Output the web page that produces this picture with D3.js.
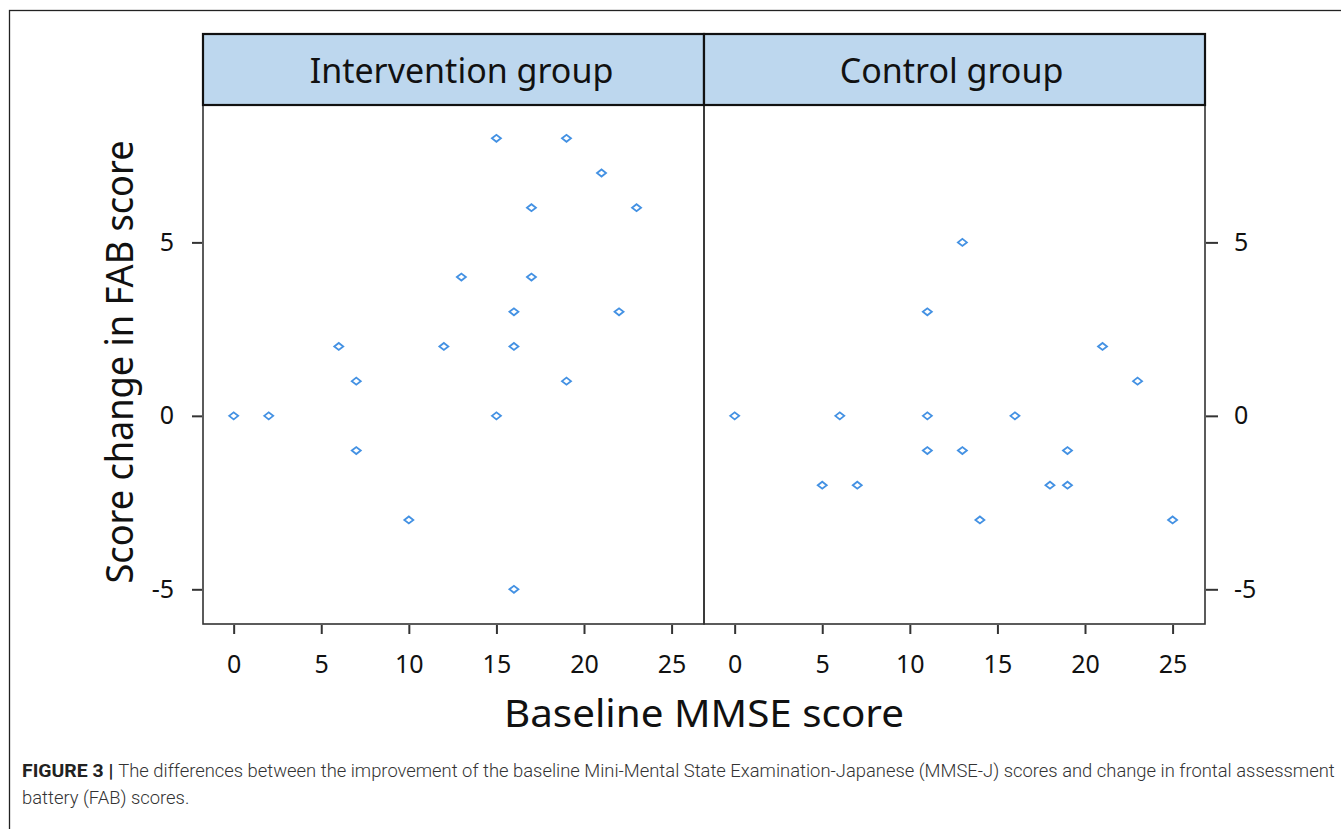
<!DOCTYPE html>
<html>
<head>
<meta charset="utf-8">
<script src="https://cdn.jsdelivr.net/npm/d3@7"></script>
<style>
  body { margin: 0; background: #fff; }
  svg { display: block; }
</style>
</head>
<body>
<svg></svg>
<script>
// Set the dimensions of the SVG container
const width = 1341;
const height = 829;

// panels (facets)
const panels = ["Intervention group", "Control group"];

// Baseline MMSE score / change in FAB score, one pair of arrays per panel
const interventionMMSE = [0, 2, 6, 7, 7, 10, 12, 13, 15, 15, 16, 16, 16, 17, 17, 19, 19, 21, 22, 23];
const interventionFAB  = [0, 0, 2, 1, -1, -3, 2, 4, 8, 0, 3, 2, -5, 6, 4, 8, 1, 7, 3, 6];
const controlMMSE = [0, 5, 6, 7, 11, 11, 11, 13, 13, 14, 16, 18, 19, 19, 21, 23, 25];
const controlFAB  = [0, -2, 0, -2, 3, 0, -1, 5, -1, -3, 0, -2, -1, -2, 2, 1, -3];

// tick values
const xTicks = [0, 5, 10, 15, 20, 25];
const yTicks = [-5, 0, 5];

const captionBold = "FIGURE 3 | ";
const captionLine1 = "The differences between the improvement of the baseline Mini-Mental State Examination-Japanese (MMSE-J) scores and change in frontal assessment";
const captionLine2 = "battery (FAB) scores.";

const svg = d3.select("svg")
  .attr("width", width)
  .attr("height", height);

// outer frame of the figure
svg.append("rect")
  .attr("x", 9.5).attr("y", 10.5)
  .attr("width", 1345).attr("height", 840)
  .attr("fill", "none")
  .attr("stroke", "#222")
  .attr("stroke-width", 1.3);

// layout
const plotLeft = 203, plotRight = 1205;
const stripTop = 34, stripBottom = 105, plotBottom = 624;
const panelW = (plotRight - plotLeft) / 2;
const stripShift = [8, -3];
const font = "'Noto Sans', 'Open Sans', sans-serif";

const y = d3.scaleLinear()
  .domain([-6, 8.96])
  .range([plotBottom, stripBottom]);

const data = [
  interventionMMSE.map((m, i) => ({ x: m, y: interventionFAB[i] })),
  controlMMSE.map((m, i) => ({ x: m, y: controlFAB[i] }))
];

panels.forEach((name, p) => {
  const x0 = plotLeft + p * panelW;
  const x = d3.scaleLinear()
    .domain([-1.75, 26.85])
    .range([x0, x0 + panelW]);

  const g = svg.append("g");

  // panel box
  g.append("rect")
    .attr("x", x0).attr("y", stripBottom)
    .attr("width", panelW).attr("height", plotBottom - stripBottom)
    .attr("fill", "none")
    .attr("stroke", "#333")
    .attr("stroke-width", 1.6);

  // strip
  g.append("rect")
    .attr("x", x0).attr("y", stripTop)
    .attr("width", panelW).attr("height", stripBottom - stripTop)
    .attr("fill", "#bdd7ee")
    .attr("stroke", "#111")
    .attr("stroke-width", 2.2);
  g.append("text")
    .attr("x", x0 + panelW / 2 + stripShift[p]).attr("y", 83)
    .attr("text-anchor", "middle")
    .attr("font-family", font)
    .attr("font-size", 34)
    .attr("fill", "#111")
    .text(name);

  // x axis
  const xAxis = g.append("g")
    .attr("transform", `translate(0,${plotBottom + 1})`)
    .call(d3.axisBottom(x).tickValues(xTicks).tickSize(9).tickPadding(21)
      .tickFormat(d => String(d)));
  xAxis.select(".domain").remove();
  xAxis.selectAll("line").attr("stroke", "#333").attr("stroke-width", 2);
  xAxis.selectAll("text")
    .attr("font-family", font).attr("font-size", 25).attr("fill", "#111");

  // y axis: left on the first panel, right on the second
  const yAxis = p === 0
    ? d3.axisLeft(y).tickValues(yTicks).tickSize(10).tickPadding(18)
    : d3.axisRight(y).tickValues(yTicks).tickSize(12).tickPadding(16);
  const ya = g.append("g")
    .attr("transform", `translate(${p === 0 ? x0 - 1 : x0 + panelW + 1},0)`)
    .call(yAxis.tickFormat(d => String(d)));
  ya.select(".domain").remove();
  ya.selectAll("line").attr("stroke", "#333").attr("stroke-width", 2);
  ya.selectAll("text")
    .attr("font-family", font).attr("font-size", 25).attr("fill", "#111");

  // points: small open diamonds
  g.selectAll("path.pt")
    .data(data[p])
    .enter().append("path")
    .attr("class", "pt")
    .attr("d", "M-4.5,0L0,-3.5L4.5,0L0,3.5Z")
    .attr("transform", d => `translate(${x(d.x)},${y(d.y)})`)
    .attr("fill", "none")
    .attr("stroke", "#4391e3")
    .attr("stroke-width", 1.8);
});

// axis titles
svg.append("text")
  .attr("x", 704).attr("y", 727)
  .attr("text-anchor", "middle")
  .attr("font-family", font)
  .attr("font-size", 38)
  .attr("fill", "#111")
  .attr("textLength", 400)
  .attr("lengthAdjust", "spacingAndGlyphs")
  .text("Baseline MMSE score");

svg.append("text")
  .attr("transform", "translate(133,362) rotate(-90)")
  .attr("text-anchor", "middle")
  .attr("font-family", font)
  .attr("font-size", 39)
  .attr("fill", "#111")
  .attr("textLength", 443)
  .attr("lengthAdjust", "spacingAndGlyphs")
  .text("Score change in FAB score");

// caption
const capFont = "Roboto, 'Liberation Sans', sans-serif";
const cap1 = svg.append("text")
  .attr("x", 22).attr("y", 777)
  .attr("font-family", capFont)
  .attr("font-size", 18)
  .attr("fill", "#333");
cap1.append("tspan").attr("font-weight", "bold").attr("font-size", 19).attr("fill", "#222")
  .text(captionBold.replace(" ", "\u00a0"));
cap1.append("tspan").attr("font-weight", 300).text(captionLine1);
const len = cap1.node().getComputedTextLength();
const sx = 1314 / len;
cap1.attr("transform", `translate(22,0) scale(${sx},1) translate(-22,0)`);

svg.append("text")
  .attr("x", 22).attr("y", 804)
  .attr("font-family", capFont)
  .attr("font-size", 18)
  .attr("font-weight", 300)
  .attr("fill", "#333")
  .attr("transform", `translate(22,0) scale(${sx},1) translate(-22,0)`)
  .text(captionLine2);
</script>
</body>
</html>
